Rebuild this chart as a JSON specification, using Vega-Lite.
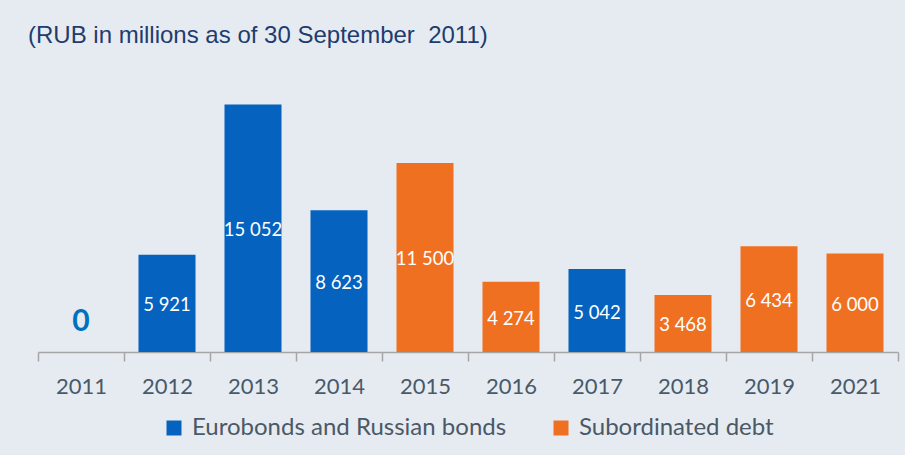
{
  "$schema": "https://vega.github.io/schema/vega-lite/v6.json",
  "width": 860,
  "height": 263,
  "autosize": {"type": "none"},
  "padding": {"left": 38, "top": 89, "right": 7, "bottom": 103},
  "background": "#e6ebf2",
  "config": {
    "view": {"stroke": null},
    "locale": {"number": {"decimal": ".", "thousands": " ", "grouping": [3], "currency": ["", ""]}}
  },
  "title": {
    "text": "(RUB in millions as of 30 September\u00a0 2011)",
    "anchor": "start",
    "frame": "group",
    "font": "Liberation Sans",
    "fontSize": 24,
    "fontWeight": "normal",
    "color": "#1f3c6e",
    "offset": 22,
    "baseline": "alphabetic",
    "dx": -10
  },
  "data": {
    "values": [
      {"year": "2011", "value": 0, "type": "Eurobonds and Russian bonds"},
      {"year": "2012", "value": 5921, "type": "Eurobonds and Russian bonds"},
      {"year": "2013", "value": 15052, "type": "Eurobonds and Russian bonds"},
      {"year": "2014", "value": 8623, "type": "Eurobonds and Russian bonds"},
      {"year": "2015", "value": 11500, "type": "Subordinated debt"},
      {"year": "2016", "value": 4274, "type": "Subordinated debt"},
      {"year": "2017", "value": 5042, "type": "Eurobonds and Russian bonds"},
      {"year": "2018", "value": 3468, "type": "Subordinated debt"},
      {"year": "2019", "value": 6434, "type": "Subordinated debt"},
      {"year": "2021", "value": 6000, "type": "Subordinated debt"}
    ]
  },
  "layer": [
    {
      "mark": {"type": "bar", "width": {"band": 0.663}},
      "encoding": {
        "x": {
          "field": "year",
          "type": "ordinal",
          "scale": {"paddingInner": 0, "paddingOuter": 0},
          "axis": {
            "title": null,
            "labelAngle": 0,
            "domainColor": "#a6a6a6",
            "domainWidth": 1.5,
            "tickColor": "#a6a6a6",
            "tickWidth": 1.5,
            "tickSize": 9,
            "tickBand": "extent",
            "labelFont": "Lato",
            "labelFontSize": 22,
            "labelColor": "#4b5966",
            "labelBaseline": "middle",
            "labelPadding": 25
          }
        },
        "y": {"field": "value", "type": "quantitative", "scale": {"domain": [0, 16000]}, "axis": null},
        "color": {
          "field": "type",
          "type": "nominal",
          "scale": {"domain": ["Eurobonds and Russian bonds", "Subordinated debt"], "range": ["#0562bf", "#f07022"]},
          "legend": {
            "orient": "none",
            "legendX": 124,
            "legendY": 327,
            "direction": "horizontal",
            "title": null,
            "symbolType": "square",
            "symbolSize": 225,
            "symbolStrokeWidth": 0,
            "labelFont": "Lato",
            "labelFontSize": 24,
            "labelColor": "#4b5966",
            "labelLimit": 500,
            "columnPadding": 42,
            "labelOffset": 6
          }
        }
      }
    },
    {
      "transform": [{"filter": "datum.value > 0"}],
      "mark": {"type": "text", "color": "white", "font": "Lato", "fontSize": 18.5, "dy": 2},
      "encoding": {
        "x": {"field": "year", "type": "ordinal"},
        "y": {"field": "value", "type": "quantitative", "scale": {"domain": [0, 32000]}, "axis": null},
        "text": {"field": "value", "type": "quantitative", "format": ",d"}
      }
    },
    {
      "transform": [{"filter": "datum.value == 0"}],
      "mark": {"type": "text", "color": "#0070c0", "font": "Lato", "fontSize": 30, "fontWeight": "bold", "dy": -30},
      "encoding": {
        "x": {"field": "year", "type": "ordinal"},
        "y": {"field": "value", "type": "quantitative", "scale": {"domain": [0, 16000]}, "axis": null},
        "text": {"field": "value", "type": "quantitative", "format": ",d"}
      }
    }
  ],
  "resolve": {"scale": {"y": "independent"}}
}
